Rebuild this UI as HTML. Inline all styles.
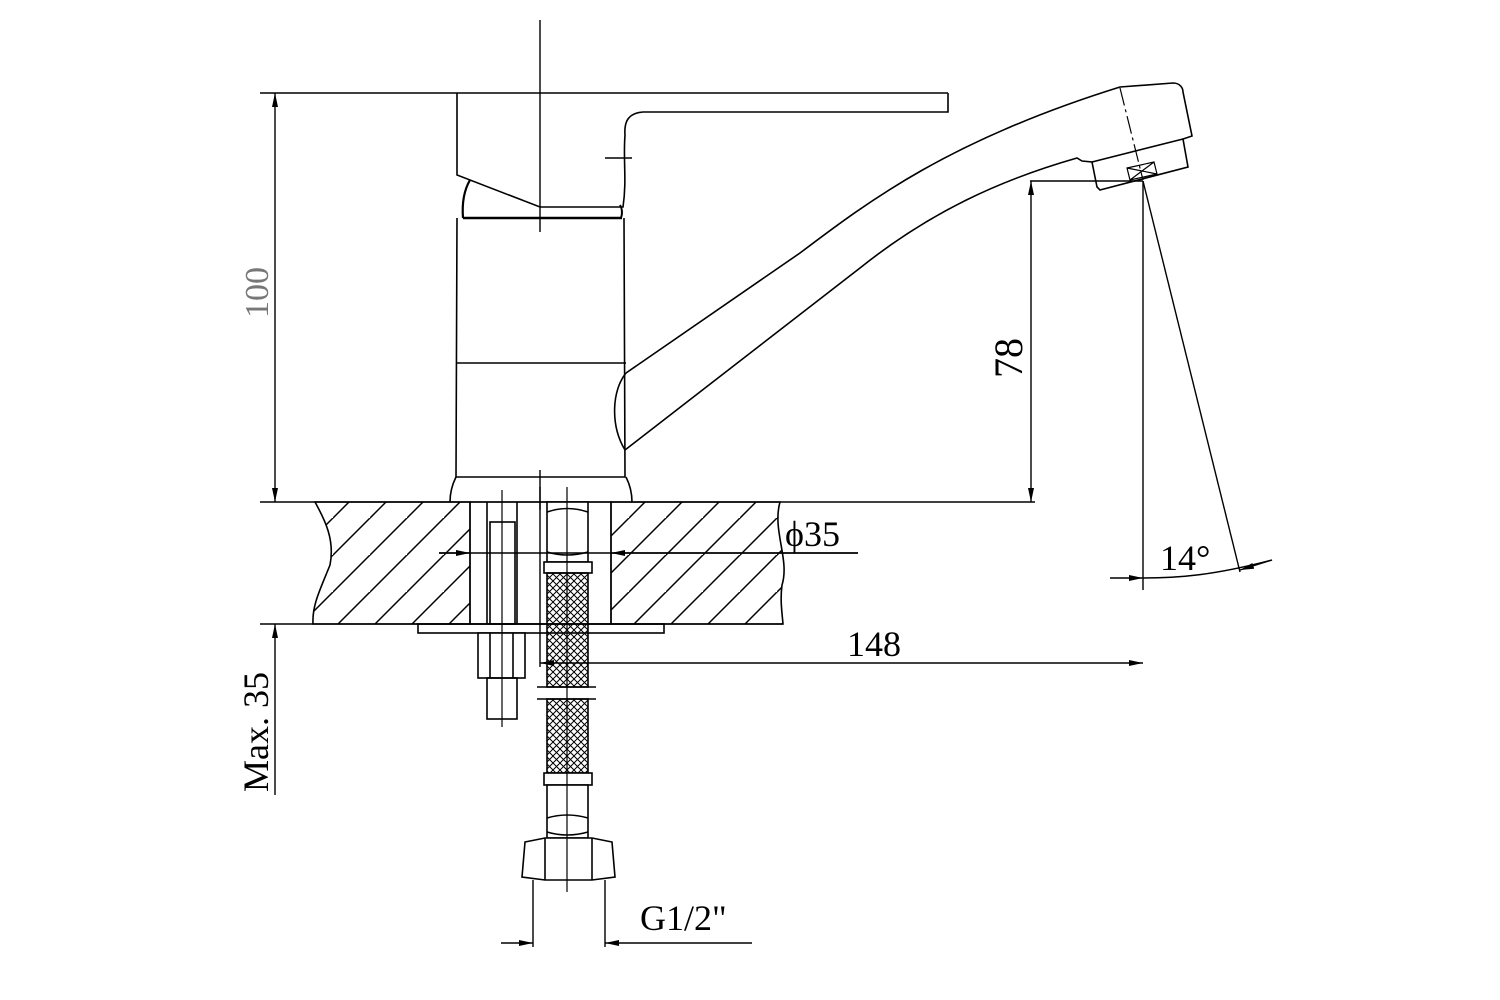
<!DOCTYPE html>
<html><head><meta charset="utf-8"><style>html,body{margin:0;padding:0;background:#fff}svg{display:block}</style></head>
<body>
<svg width="1500" height="1000" viewBox="0 0 1500 1000" xmlns="http://www.w3.org/2000/svg" font-family="Liberation Serif, serif">
<defs>
<pattern id="hatch" patternUnits="userSpaceOnUse" width="37" height="37">
<path d="M-5 42 L42 -5 M-42 42 L42 -42 M5 79 L79 5" stroke="#000" stroke-width="1.5"/>
</pattern>
<pattern id="braid" patternUnits="userSpaceOnUse" width="7" height="7">
<path d="M0 0 L7 7 M7 0 L0 7" stroke="#000" stroke-width="1"/>
</pattern>
<marker id="a" markerWidth="14" markerHeight="6" refX="14" refY="3" orient="auto" markerUnits="userSpaceOnUse">
<path d="M0 0 L14 3 L0 6 Z" fill="#000"/></marker>
</defs>
<g fill="none" stroke="#000" stroke-width="1.6">
<path d="M315 502 C 325 520,335 540,330 565 C 320 590,312 605,313 624 L470 624 L470 502 Z" fill="url(#hatch)"/>
<path d="M611 502 L780 502 C 772 530,790 560,782 585 C 780 600,782 612,783 624 L611 624 Z" fill="url(#hatch)"/>
<line x1="260" y1="502" x2="1035" y2="502"/>
<line x1="260" y1="624" x2="783" y2="624"/>
<line x1="260" y1="93" x2="948" y2="93"/>
<path d="M948 93 L948 112 L643 112 C 628 113,624 122,625 135 C 623 160,627 180,623 207 L540 207 L457 175 L457 93"/>
<line x1="605" y1="158" x2="632" y2="158"/>
<path d="M470 180 C 463 192,462 205,463 218" stroke-width="2.2"/>
<path d="M620 205 C 623 210,622 215,621 218" stroke-width="2"/>
<line x1="463" y1="218" x2="622" y2="218" stroke-width="2.4"/>
<path d="M457 218 L456 477 L625 477 L624 218"/>
<line x1="457" y1="363" x2="626" y2="363"/>
<path d="M456 477 C 452 485,450 492,450 502"/>
<path d="M626 477 C 630 485,632 492,632 502"/>
<line x1="540" y1="20" x2="540" y2="232" stroke-width="1.4"/>
<line x1="540" y1="470" x2="540" y2="510" stroke-width="1.4"/>
<path d="M626 373 L800 253 C 870 200,950 140,1120 87 L1173 83 C 1180 83,1183 88,1183 92 L1192 136 L1183 139 L1188 167 L1100 190 L1097 187 L1092 162 L1082 161 L1077 158 C 1000 180,930 212,860 268 L625 450"/>
<path d="M626 373 C 612 390,610 425,625 450"/>
<path d="M1092 162 L1183 139"/>
<line x1="1120" y1="88" x2="1143" y2="180" stroke-dasharray="18 4 3 4" stroke-width="1.2"/>
<path d="M1127 168 L1154 162 L1157 174 L1130 180 Z M1127 168 L1157 174 M1154 162 L1130 180" stroke-width="1.2"/>
<rect x="470" y="502" width="141" height="122" stroke-width="1.4"/>
<line x1="487" y1="502" x2="487" y2="624"/><line x1="517" y1="502" x2="517" y2="624"/>
<rect x="490" y="522" width="25" height="102"/>
<rect x="418" y="624" width="246" height="9"/>
<rect x="478" y="633" width="47" height="45" fill="#fff"/>
<line x1="490" y1="633" x2="490" y2="678"/><line x1="513" y1="633" x2="513" y2="678"/>
<rect x="487" y="678" width="30" height="41"/>
<line x1="502" y1="490" x2="502" y2="727" stroke-width="1.2"/>
<rect x="547" y="502" width="41" height="60" fill="#fff"/>
<path d="M547 512 Q567 505 588 512 M547 552 Q567 558 588 552"/>
<rect x="544" y="562" width="48" height="11" fill="#fff"/>
<rect x="547" y="573" width="41" height="114" fill="url(#braid)"/>
<rect x="547" y="699" width="41" height="74" fill="url(#braid)"/>
<line x1="537" y1="687" x2="596" y2="687"/><line x1="537" y1="699" x2="596" y2="699"/>
<rect x="544" y="773" width="48" height="12" fill="#fff"/>
<rect x="547" y="785" width="41" height="53" fill="#fff"/>
<path d="M547 818 Q567 812 588 818 M547 832 Q567 838 588 832"/>
<path d="M525 842 L545 838 L592 838 L612 842 L615 877 L592 880 L545 880 L522 877 Z" fill="#fff"/>
<line x1="545" y1="838" x2="545" y2="880"/><line x1="592" y1="838" x2="592" y2="880"/>
<line x1="567" y1="487" x2="567" y2="892" stroke-width="1.2"/>
</g>
<g fill="none" stroke="#000" stroke-width="1.4">
<path d="M275 300 L275 93" marker-end="url(#a)"/>
<path d="M275 300 L275 502" marker-end="url(#a)"/>
<path d="M275 795 L275 624" marker-end="url(#a)"/>
<line x1="1030" y1="181" x2="1143" y2="181"/>
<path d="M1031 340 L1031 181" marker-end="url(#a)"/>
<path d="M1031 340 L1031 502" marker-end="url(#a)"/>
<line x1="1143" y1="181" x2="1143" y2="590"/>
<line x1="1143" y1="181" x2="1240" y2="572"/>
<path d="M1143 578 C 1180 578,1215 575,1272 560"/>
<path d="M1110 578 L1143 578" marker-end="url(#a)"/>
<path d="M1272 560 L1240 570" marker-end="url(#a)"/>
<line x1="439" y1="553" x2="858" y2="553"/>
<path d="M439 553 L470 553" marker-end="url(#a)"/>
<path d="M858 553 L611 553" marker-end="url(#a)"/>
<line x1="540" y1="487" x2="540" y2="667"/>
<path d="M800 663 L540 663" marker-end="url(#a)"/>
<path d="M800 663 L1143 663" marker-end="url(#a)"/>
<line x1="533" y1="880" x2="533" y2="947"/><line x1="605" y1="880" x2="605" y2="947"/>
<path d="M501 943 L533 943" marker-end="url(#a)"/>
<path d="M752 943 L605 943" marker-end="url(#a)"/>
</g>
<g font-size="36" fill="#000">
<text x="785" y="546">ϕ35</text>
<text x="847" y="656">148</text>
<text x="1160" y="570">14°</text>
<text x="640" y="930">G1/2"</text>
<text transform="translate(268,318) rotate(-90)" fill="#777" font-size="34">100</text>
<text transform="translate(1022,378) rotate(-90)" font-size="40">78</text>
<text transform="translate(268,792) rotate(-90)">Max. 35</text>
</g>
</svg>
</body></html>
